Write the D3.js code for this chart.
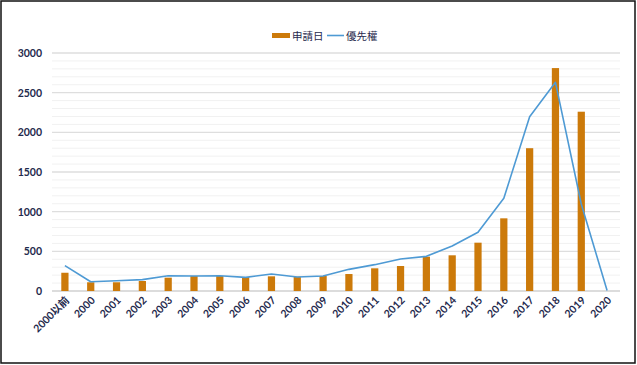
<!DOCTYPE html>
<html><head><meta charset="utf-8">
<script src="https://cdn.jsdelivr.net/npm/d3@7"></script>
<style>
html,body{margin:0;padding:0;background:#fff;}
svg{display:block;}
</style></head>
<body>
<svg id="chart" width="637" height="365"></svg>
<script>
const categories = ["2000以前","2000","2001","2002","2003","2004","2005","2006","2007","2008","2009","2010","2011","2012","2013","2014","2015","2016","2017","2018","2019","2020"];
const filingValues = [230,110,110,126,168,189,189,176,185,180,189,214,286,315,433,450,609,916,1800,2810,2260,0];
const priorityValues = [320,117,130,143,193,189,193,172,214,176,189,273,332,403,437,567,740,1168,2197,2630,1097,5];
const yTicks = [0,500,1000,1500,2000,2500,3000];
const seriesNames = ["申請日","優先權"];

const svg = d3.select("#chart");
const W = 637, H = 365;
const margin = {left:52, right:17, top:53, bottom:74};
const font = "Lato, 'Noto Sans CJK JP', sans-serif";
const textColor = "#1f2a4d";
const barColor = "#cc7a0a";
const lineColor = "#4e9ad4";

// frame
svg.append("rect").attr("x",1).attr("y",1).attr("width",W-3).attr("height",H-3)
  .attr("fill","#fff").attr("stroke","#111").attr("stroke-width",1.5);

const x = d3.scaleBand().domain(categories).range([margin.left, W-margin.right]).paddingInner(0.72).paddingOuter(0.36);
const y = d3.scaleLinear().domain([0,3000]).range([H-margin.bottom, margin.top]);

// minor gridlines
const g = svg.append("g");
g.selectAll("line.minor").data(d3.range(100,3001,100).filter(v=>v%500!==0)).join("line")
  .attr("x1",margin.left).attr("x2",W-margin.right)
  .attr("y1",d=>y(d)).attr("y2",d=>y(d))
  .attr("stroke","#f1f1f1").attr("stroke-width",1);
g.selectAll("line.major").data(yTicks).join("line")
  .attr("x1",margin.left).attr("x2",W-margin.right)
  .attr("y1",d=>y(d)).attr("y2",d=>y(d))
  .attr("stroke",d=>d===0?"#d0d0d0":"#dedede").attr("stroke-width",1.3);

// y axis
const yAxis = d3.axisLeft(y).tickValues(yTicks).tickFormat(d3.format("d")).tickSize(0).tickPadding(10);
const ya = svg.append("g").attr("transform",`translate(${margin.left},0)`).call(yAxis);
ya.select(".domain").remove();
ya.selectAll("text").attr("font-family",font).attr("font-weight","bold").attr("font-size","10.5px").attr("fill",textColor);

// x axis
const xAxis = d3.axisBottom(x).tickSize(0).tickPadding(0);
const xa = svg.append("g").attr("transform",`translate(0,${y(0)})`).call(xAxis);
xa.select(".domain").remove();
xa.selectAll("text")
  .attr("font-family",font).attr("font-weight","bold").attr("font-size","10.5px").attr("fill",textColor)
  .attr("text-anchor","end").attr("dy",null).attr("y",0)
  .attr("transform","translate(5,10) rotate(-45)");

// bars
svg.append("g").selectAll("rect").data(categories).join("rect")
  .attr("x",d=>x(d)).attr("width",x.bandwidth())
  .attr("y",(d,i)=>y(filingValues[i])).attr("height",(d,i)=>y(0)-y(filingValues[i]))
  .attr("fill",barColor);

// line
const line = d3.line().x((d,i)=>x(categories[i])+x.bandwidth()/2).y(d=>y(d));
svg.append("path").datum(priorityValues).attr("d",line)
  .attr("fill","none").attr("stroke",lineColor).attr("stroke-width",1.6).attr("stroke-linejoin","round");

// legend
const lg = svg.append("g").attr("font-family",font).attr("font-size","10.5px").attr("fill",textColor);
lg.append("rect").attr("x",272).attr("y",33).attr("width",18).attr("height",5).attr("fill",barColor);
lg.append("text").attr("x",292).attr("y",39.5).text(seriesNames[0]).attr("fill",textColor);
lg.append("line").attr("x1",327).attr("x2",344).attr("y1",35.5).attr("y2",35.5).attr("stroke",lineColor).attr("stroke-width",1.6);
lg.append("text").attr("x",346).attr("y",39.5).text(seriesNames[1]).attr("fill",textColor);
</script>
</body></html>
